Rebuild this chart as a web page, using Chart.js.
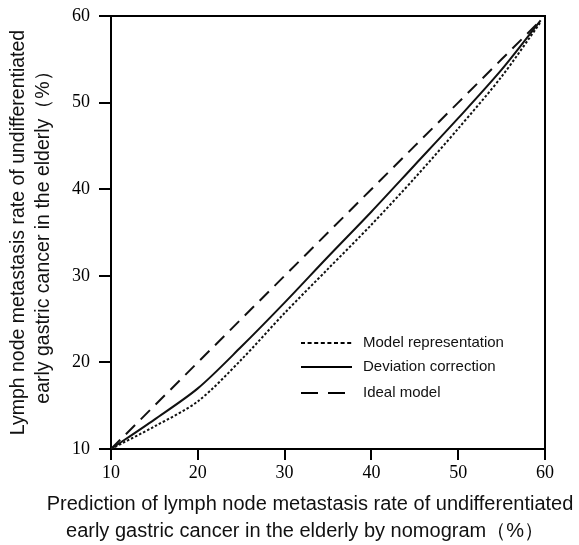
<!DOCTYPE html>
<html>
<head>
<meta charset="utf-8">
<script src="https://cdn.jsdelivr.net/npm/chart.js@4.4.1/dist/chart.umd.min.js"></script>
<style>
  html, body { margin: 0; padding: 0; background: #fff; }
  #wrap { width: 579px; height: 545px; }
</style>
</head>
<body>
<div id="wrap"><canvas id="calibration" width="579" height="545"></canvas></div>
<script>
// predicted rate by nomogram (%)
var predicted = [10, 15, 20, 25, 30, 35, 40, 45, 50, 55, 59.5];
// observed rate (%)
var modelRepresentation = [10, 12.6, 15.5, 20.3, 25.7, 30.8, 35.9, 41.3, 47.0, 53.0, 59.3];
var deviationCorrection = [10, 13.4, 17.0, 21.8, 26.9, 32.2, 37.4, 42.8, 48.2, 53.8, 59.5];
var idealModel = [10, 15, 20, 25, 30, 35, 40, 45, 50, 55, 59.5];

var seriesNames = ["Model representation", "Deviation correction", "Ideal model"];
var yTicks = [10, 20, 30, 40, 50, 60];
var xTicks = [10, 20, 30, 40, 50, 60];

function toPoints(ys) {
    return predicted.map(function(x, i) { return { x: x, y: ys[i] }; });
}

var sans = "'Liberation Sans', Arial, sans-serif";
var serif = "'Liberation Serif', 'Times New Roman', serif";

// box around the plot + the legend + x title, drawn after the chart
var extras = {
    id: "extras",
    afterDraw: function(chart) {
        var ctx = chart.ctx;
        var a = chart.chartArea;
        ctx.save();
        ctx.strokeStyle = "#000";
        ctx.lineWidth = 2;
        ctx.beginPath();
        ctx.moveTo(a.left, a.top);
        ctx.lineTo(a.right, a.top);
        ctx.lineTo(a.right, a.bottom);
        ctx.stroke();

        // legend
        var lx = 301, ly = 343;
        ctx.font = "15px " + sans;
        ctx.fillStyle = "#111";
        ctx.textBaseline = "middle";
        chart.data.datasets.forEach(function(ds, i) {
            var y = ly + [0, 24, 50][i];
            ctx.beginPath();
            ctx.setLineDash(ds.legendDash || []);
            ctx.lineWidth = 2.2;
            ctx.moveTo(lx, y);
            ctx.lineTo(lx + 51, y);
            ctx.stroke();
            ctx.setLineDash([]);
            ctx.fillText(ds.label, lx + 62, y);
        });

        // x axis title
        ctx.font = "20px " + sans;
        ctx.textAlign = "center";
        ctx.fillText("Prediction of lymph node metastasis rate of undifferentiated", 310, 504);
        ctx.fillText("early gastric cancer in the elderly by nomogram（%）", 305, 531);
        ctx.restore();
    }
};

new Chart(document.getElementById("calibration"), {
    type: "line",
    data: {
        datasets: [
            {
                label: seriesNames[0],
                data: toPoints(modelRepresentation),
                borderColor: "#111",
                borderWidth: 2,
                borderDash: [2.5, 2],
                legendDash: [4, 2.6],
                pointRadius: 0,
                tension: 0.3,
                fill: false
            },
            {
                label: seriesNames[1],
                data: toPoints(deviationCorrection),
                borderColor: "#111",
                borderWidth: 2,
                pointRadius: 0,
                tension: 0.3,
                fill: false
            },
            {
                label: seriesNames[2],
                data: toPoints(idealModel),
                borderColor: "#111",
                borderWidth: 2,
                borderDash: [13, 8],
                legendDash: [17, 10],
                pointRadius: 0,
                tension: 0,
                fill: false
            }
        ]
    },
    options: {
        responsive: false,
        animation: false,
        layout: { padding: { top: 16, right: 34, left: 0, bottom: 0 } },
        plugins: {
            legend: { display: false },
            tooltip: { enabled: false }
        },
        scales: {
            x: {
                type: "linear",
                min: 10,
                max: 60,
                afterBuildTicks: function(s) { s.ticks = xTicks.map(function(v) { return { value: v }; }); },
                afterFit: function(s) { s.height = 96; s.paddingLeft = 0; s.paddingRight = 0; },
                ticks: { color: "#000", font: { family: serif, size: 18 }, padding: 2, maxRotation: 0 },
                grid: { drawOnChartArea: false, drawTicks: true, tickLength: 11, color: "#000", lineWidth: 2 },
                border: { display: true, color: "#000", width: 2 }
            },
            y: {
                type: "linear",
                min: 10,
                max: 60,
                afterBuildTicks: function(s) { s.ticks = yTicks.map(function(v) { return { value: v }; }); },
                afterFit: function(s) { s.width = 111; s.paddingTop = 0; s.paddingBottom = 0; },
                ticks: { color: "#000", font: { family: serif, size: 18 }, padding: 9 },
                grid: { drawOnChartArea: false, drawTicks: true, tickLength: 12, color: "#000", lineWidth: 2 },
                border: { display: true, color: "#000", width: 2 },
                title: {
                    display: true,
                    text: ["Lymph node metastasis rate of undifferentiated", "early gastric cancer in the elderly（%）"],
                    color: "#111",
                    font: { family: sans, size: 19.5, lineHeight: 1.3 },
                    padding: { top: 6, bottom: 0 }
                }
            }
        }
    },
    plugins: [extras]
});
</script>
</body>
</html>
